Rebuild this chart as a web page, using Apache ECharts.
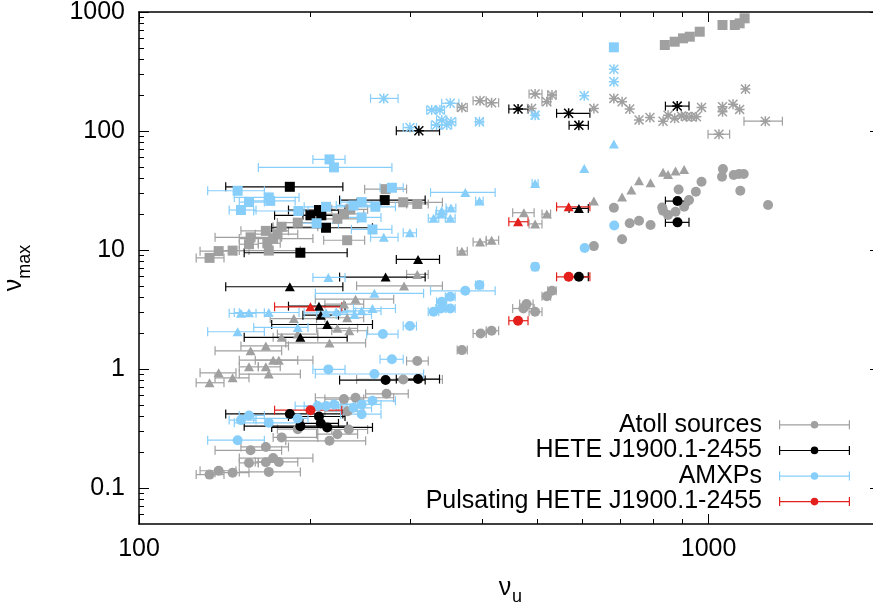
<!DOCTYPE html>
<html><head><meta charset="utf-8">
<script src="https://cdn.jsdelivr.net/npm/echarts@6/dist/echarts.min.js"></script>
<style>html,body{margin:0;padding:0;background:#fff}#c{width:873px;height:607px}</style>
</head><body><div id="c"></div><script>
// ---- tick values ----
const xMajor = [100, 1000];
const xMinor = [200, 300, 400, 500, 600, 700, 800, 900];
const yMajor = [0.1, 1, 10, 100, 1000];
const yMinor = [0.06, 0.07, 0.08, 0.09, 0.2, 0.3, 0.4, 0.5, 0.6, 0.7, 0.8, 0.9,
  2, 3, 4, 5, 6, 7, 8, 9, 20, 30, 40, 50, 60, 70, 80, 90, 200, 300, 400, 500, 600, 700, 800, 900];

// ---- data: [nu_u, nu_max, nu_u low, nu_u high] ----
const atollSquares = [
  [133, 8.6, 126, 141], [138, 9.8, 128, 148], [146, 9.9, 136, 156], [156, 11.2, 150, 162],
  [168, 11.4, 162, 177], [169, 9.9, 150, 192], [172, 12.5, 150, 202], [175, 13.6, 160, 190],
  [157, 12.8, 136, 178], [167, 14.5, 151, 183], [178, 15.7, 172, 206], [190, 17.0, 175, 206],
  [223, 18.3, 205, 242], [229, 20.1, 212, 248], [235, 22.0, 218, 252], [232, 12.1, 211, 249],
  [271, 32.5, 249, 295], [291, 25.2, 241, 341], [308, 24.4, 295, 322],
  [838, 528], [872, 563], [902, 601], [927, 620], [965, 683], [1058, 778], [1112, 778], [1134, 803], [1157, 885]
];
const atollTriangles = [
  [133, 0.768, 126, 141], [138, 0.931, 128, 148], [146, 0.845, 136, 156], [156, 1.045, 150, 162],
  [167, 1.045, 162, 177], [169, 0.908, 150, 192], [172, 1.19, 150, 202], [176, 1.19, 160, 190],
  [157, 1.425, 136, 178], [167, 1.567, 151, 183], [216, 1.66, 181, 250], [178, 1.85, 172, 206],
  [190, 1.97, 175, 206], [223, 2.2, 205, 242], [234, 2.10, 218, 252], [187, 2.66, 170, 205],
  [232, 2.70, 212, 248], [240, 3.87, 204, 280], [229, 3.52, 212, 248], [292, 5.0, 241, 341],
  [308, 6.25, 295, 322], [369, 9.8, 362, 377], [397, 11.7, 386, 407], [416, 12.1, 407, 428],
  [474, 20.6, 453, 494], [496, 16.6, 484, 510], [520, 20.1, 510, 528],
  [629, 25.8], [705, 27.9], [732, 31.9], [755, 38.2], [791, 36.7], [832, 45.0], [849, 43.2], [875, 46.1], [906, 47.6]
];
const atollCircles = [
  [133, 0.130, 126, 141], [138, 0.140, 128, 148], [146, 0.135, 136, 156], [156, 0.163, 150, 162],
  [167, 0.165, 162, 177], [169, 0.137, 150, 192], [172, 0.179, 150, 202], [176, 0.166, 160, 190],
  [157, 0.208, 136, 178], [167, 0.222, 151, 183], [216, 0.250, 181, 250], [178, 0.267, 172, 206],
  [190, 0.313, 175, 206], [223, 0.284, 205, 242], [233.5, 0.311, 218, 252], [229, 0.560, 212, 248],
  [240, 0.575, 204, 280], [232.5, 0.443, 212, 248], [291, 0.819, 241, 341], [272, 0.62, 250, 297],
  [308, 1.17, 295, 322], [369, 1.445, 362, 377], [398, 1.99, 386, 407], [416, 2.10, 407, 428],
  [473, 3.23, 453, 494], [479, 3.52, 466, 492], [496, 3.03, 484, 510], [520, 4.10, 510, 528], [531, 4.55, 522, 540],
  [629, 10.8], [682, 22.7], [705, 12.35], [727, 16.8], [755, 17.66], [791, 16.25], [829, 22.8], [832, 21.4],
  [849, 19.7], [875, 21.0], [886, 32.3], [906, 23.1], [924, 26.3], [950, 30.9], [972, 37.5], [1056, 41.3],
  [1060, 47.9], [1107, 42.7], [1131, 43.5], [1153, 43.5], [1137, 31.5], [1272, 23.9]
];
const atollStars = [
  [369, 158, 362, 377], [397, 180, 386, 407], [416, 173, 407, 428], [489, 155], [496, 205, 484, 510],
  [520, 176, 510, 528], [531, 201, 522, 540],
  [629, 155], [682, 188], [705, 176], [727, 153], [755, 124], [789, 130], [832, 121], [849, 136], [872, 128],
  [896, 134], [914, 132], [933, 132], [952, 132], [972, 158], [1058, 160], [1058, 145], [1104, 168], [1134, 152], [1161, 225],
  [1258, 121, 1154, 1348], [1043, 94, 998, 1089]
];

const heteSquares = [
  [184, 34.0, 142, 228], [270, 26.3, 225, 318], [207, 21.7, 183, 230], [200, 19.6, 173, 226],
  [209, 19.6, 194, 224], [213, 15.4, 171, 257], [192, 9.5, 153, 232]
];
const heteTriangles = [
  [184, 4.92, 142, 228], [271, 5.93, 225, 318], [309, 8.35, 283, 337], [207, 3.38, 183, 230],
  [208.5, 2.84, 194, 224], [214, 2.37, 171, 257], [192, 1.85, 153, 232], [592, 22.4, 569, 615]
];
const heteCircles = [
  [184, 0.42, 142, 228], [207, 0.40, 183, 230], [208.5, 0.35, 194, 224], [214, 0.324, 171, 257],
  [192, 0.332, 153, 232], [271, 0.809, 225, 318], [309, 0.825, 283, 337], [592, 5.96, 569, 615],
  [882, 25.8, 840, 924], [882, 17.1, 840, 924]
];
const heteStars = [
  [310, 100.5, 283, 337], [463, 153, 446, 482], [568, 141, 541, 619], [592, 111.6, 569, 615], [881, 162, 840, 924]
];

const amxpSquares = [
  [216, 57.8, 202, 230], [220, 49.5, 162, 278], [149, 31.5, 132, 166], [169, 27.7, 147, 191],
  [170, 25.9, 154, 188], [156, 25.3, 150, 166], [151, 21.7, 144, 160.5], [190.5, 21.3, 159, 198],
  [213, 23.1, 195, 232], [238, 23.7, 222, 256], [246, 25.3, 226, 266], [260, 23.1, 238, 282],
  [246, 18.8, 226, 266], [205, 16.8, 188, 224], [257, 14.9, 236, 278], [278, 33.4, 265, 291],
  [682, 505]
];
const amxpTriangles = [
  [215, 5.89, 202, 230], [259, 4.33, 204, 316], [156, 2.97, 150, 166], [169, 2.99, 147, 191],
  [151, 2.94, 144, 160.5], [149, 2.06, 132, 166], [190, 2.24, 159, 198], [257, 3.23, 238, 282],
  [246, 3.09, 226, 266], [239, 2.88, 222, 256], [222, 3.03, 205, 240], [213, 2.97, 195, 232],
  [374, 30.5, 325, 422], [396, 25.9, 390, 402], [340, 21.4, 333, 347], [353, 22.6, 346, 360],
  [329, 18.5, 322, 336], [339, 20.1, 332, 346], [352, 18.5, 345, 359], [299, 13.96, 291, 307],
  [269, 12.8, 255, 285], [496, 36.3, 490, 502], [605, 48.5], [682, 77.7]
];
const amxpCircles = [
  [215, 0.995, 202, 230], [259, 0.91, 204, 316], [268, 1.97, 251, 285], [257, 0.542, 238, 282],
  [246, 0.505, 226, 266], [238, 0.473, 222, 256], [220, 0.505, 205, 240], [213, 0.489, 195, 232],
  [206, 0.489, 188, 224], [246, 0.418, 226, 266], [156, 0.408, 150, 166], [151, 0.373, 144, 160.5],
  [190, 0.385, 159, 198], [169, 0.354, 147, 191], [149, 0.253, 132, 166], [374, 4.55, 325, 422],
  [396, 5.08, 390, 402], [352, 4.05, 345, 359], [340, 3.68, 333, 347], [329, 3.03, 322, 336],
  [339, 3.23, 332, 346], [352, 3.23, 345, 359], [299, 2.30, 291, 307], [278, 1.21, 265, 291],
  [496, 7.23, 490, 502], [606, 10.4], [683, 16.1]
];
const amxpStars = [
  [269, 188, 255, 285], [299, 107, 291, 307], [352, 171, 340, 364.5], [326.5, 150, 320, 333],
  [337.6, 150, 331, 344], [340, 124, 333, 347], [353, 119.7, 346, 360], [333, 112.3, 326, 340],
  [347, 112.3, 340, 354], [396, 119.7, 390, 402], [496, 135.5, 490, 502], [605, 198], [682, 330], [682, 260]
];

const pulsTriangles = [[200, 3.34, 173, 227], [463, 17.3, 446, 482], [568, 23.1, 541, 619]];
const pulsCircles = [[200, 0.452, 173, 227], [463, 2.55, 446, 482], [568, 5.96, 541, 619]];

const groupNames = ['Atoll sources', 'HETE J1900.1-2455', 'AMXPs', 'Pulsating HETE J1900.1-2455'];
const groupColors = ['#a0a0a0', '#000000', '#87cefa', '#e3201b'];

// ---- styling ----
const FONT = "'Liberation Sans', Arial, Helvetica, sans-serif";
const STAR = 'path://M8.5,0H11.5V20H8.5Z M0,8.5H20V11.5H0Z M2.1,0L20,17.9L17.9,20L0,2.1Z M17.9,0L20,2.1L2.1,20L0,17.9Z';
const SYM = { sq: 'rect', tri: 'triangle', circ: 'circle', star: STAR };
const SIZE = { sq: 10, tri: [10, 9], circ: 10, star: 10 };

const series = [];
function addGroup(idx, sets) {
  const name = groupNames[idx], color = groupColors[idx];
  sets.forEach(([data, kind]) => {
    series.push({
      type: 'custom', name, xAxisIndex: 0, yAxisIndex: 0, silent: true, animation: false, clip: true,
      itemStyle: { color },
      data: data.filter(d => d.length > 2),
      renderItem: (params, api) => {
        const y = api.value(1);
        const a = api.coord([api.value(2), y]);
        const b = api.coord([api.value(3), y]);
        const h = 4.5;
        const st = { stroke: color, lineWidth: 1.2, fill: null };
        return { type: 'group', children: [
          { type: 'line', shape: { x1: a[0], y1: a[1], x2: b[0], y2: b[1] }, style: st },
          { type: 'line', shape: { x1: a[0], y1: a[1] - h, x2: a[0], y2: a[1] + h }, style: st },
          { type: 'line', shape: { x1: b[0], y1: b[1] - h, x2: b[0], y2: b[1] + h }, style: st }
        ] };
      }
    });
    series.push({
      type: 'scatter', name, xAxisIndex: 0, yAxisIndex: 0, animation: false, silent: true,
      symbol: SYM[kind], symbolSize: SIZE[kind],
      itemStyle: { color, opacity: 1 },
      data: data.map(d => [d[0], d[1]])
    });
  });
}
addGroup(0, [[atollSquares, 'sq'], [atollTriangles, 'tri'], [atollCircles, 'circ'], [atollStars, 'star']]);
addGroup(1, [[heteSquares, 'sq'], [heteTriangles, 'tri'], [heteCircles, 'circ'], [heteStars, 'star']]);
addGroup(2, [[amxpSquares, 'sq'], [amxpTriangles, 'tri'], [amxpCircles, 'circ'], [amxpStars, 'star']]);
addGroup(3, [[pulsTriangles, 'tri'], [pulsCircles, 'circ']]);

const lineStyle = { color: '#000', width: 1.5 };
function xAx(pos, ticks, len, labels, line) {
  return {
    type: 'log', logBase: 10, min: 100, max: 2000, position: pos, gridIndex: 0,
    axisLine: { show: line, lineStyle },
    axisTick: { show: true, inside: true, length: len, customValues: ticks, lineStyle: { color: '#000', width: 1 } },
    axisLabel: labels ? { show: true, customValues: xMajor, fontSize: 25, color: '#000', fontFamily: FONT, margin: 13,
      formatter: v => String(Math.round(v)) } : { show: false },
    splitLine: { show: false }, minorTick: { show: false }
  };
}
function yAx(pos, ticks, len, labels, line) {
  const ax = {
    type: 'log', logBase: 10, min: 0.05, max: 1000, position: pos, gridIndex: 0,
    axisLine: { show: line, lineStyle },
    axisTick: { show: true, inside: true, length: len, customValues: ticks, lineStyle: { color: '#000', width: 1 } },
    axisLabel: labels ? { show: true, customValues: yMajor, fontSize: 25, color: '#000', fontFamily: FONT, margin: 14,
      formatter: v => String(parseFloat(Number(v).toPrecision(4))) } : { show: false },
    splitLine: { show: false }, minorTick: { show: false }
  };
  if (labels) {
    ax.name = '{a|ν}{b|max}';
    ax.nameLocation = 'middle';
    ax.nameRotate = 90;
    ax.nameGap = 105;
    ax.nameMoveOverlap = false;
    ax.nameTextStyle = {
      color: '#000', fontFamily: FONT,
      rich: {
        a: { fontSize: 25, fontFamily: FONT, color: '#000', verticalAlign: 'top' },
        b: { fontSize: 18, fontFamily: FONT, color: '#000', verticalAlign: 'top', padding: [14, 0, 0, 0] }
      }
    };
  }
  return ax;
}

const LEG_ICON = 'path://M0,4H71V5.2H0Z M0,0H1.2V9H0Z M69.8,0H71V9H69.8Z M31.7,4.5A3.8,3.8 0 1,1 39.3,4.5A3.8,3.8 0 1,1 31.7,4.5Z';

const chart = echarts.init(document.getElementById('c'), null, { renderer: 'canvas' });
chart.setOption({
  backgroundColor: '#fff',
  animation: false,
  grid: { left: 139, top: 12, width: 741, height: 512, containLabel: false, outerBoundsMode: 'none' },
  xAxis: [
    xAx('bottom', xMajor, 10, true, true),
    xAx('bottom', xMinor, 5, false, false),
    xAx('top', xMajor, 10, false, true),
    xAx('top', xMinor, 5, false, false)
  ],
  yAxis: [
    yAx('left', yMajor, 10, true, true),
    yAx('left', yMinor, 5, false, false),
    yAx('right', yMajor, 10, false, true),
    yAx('right', yMinor, 5, false, false)
  ],
  legend: {
    data: groupNames, orient: 'vertical', align: 'right', right: 23, top: 412, padding: 0,
    itemGap: 0, itemWidth: 71, itemHeight: 9, icon: LEG_ICON, selectedMode: false,
    textStyle: { fontSize: 25, color: '#000', fontFamily: FONT, lineHeight: 25.6, padding: [0, 12, 0, 0] }
  },
  graphic: [
    { type: 'text', x: 505, y: 588, style: { text: 'ν', fontSize: 25, fontFamily: FONT, fill: '#000', align: 'center', verticalAlign: 'middle' } },
    { type: 'text', x: 517, y: 597, style: { text: 'u', fontSize: 18, fontFamily: FONT, fill: '#000', align: 'center', verticalAlign: 'middle' } }
  ],
  series
});
</script></body></html>
